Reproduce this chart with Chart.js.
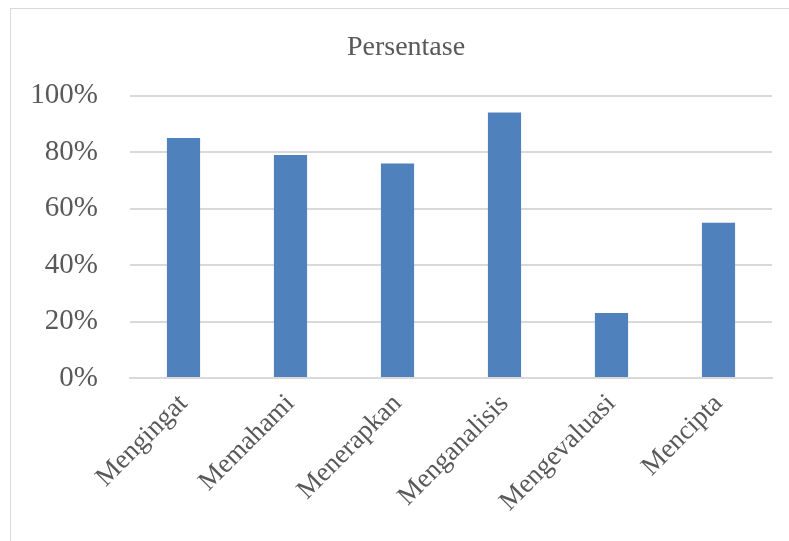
<!DOCTYPE html>
<html>
<head>
<meta charset="utf-8">
<script src="https://cdn.jsdelivr.net/npm/chart.js@4/dist/chart.umd.min.js"></script>
<style>
  html, body { margin: 0; padding: 0; background: #fff; }
  #wrap { position: relative; width: 789px; height: 541px; overflow: hidden; }
  #frame { position: absolute; left: 10px; top: 8px; width: 800px; height: 560px; border: 1px solid #d9d9d9; }
  canvas { position: absolute; left: 0; top: 0; }
</style>
</head>
<body>
<div id="wrap">
  <div id="frame"></div>
  <canvas id="chart" width="789" height="541"></canvas>
</div>
<script>
// Categories and values (percent)
const categories = ['Mengingat', 'Memahami', 'Menerapkan', 'Menganalisis', 'Mengevaluasi', 'Mencipta'];
const values = [85, 79, 76, 94, 23, 55];
const yTicks = [0, 20, 40, 60, 80, 100];

const textColor = '#595959';
const gridColor = '#d9d9d9';
const serif = "'Liberation Serif', 'Times New Roman', serif";

// nudge the title a bit to the right, like the original
const titleShift = {
  id: 'titleShift',
  afterLayout(chart) {
    if (chart.titleBlock) chart.titleBlock.left += 16;
  }
};

const ctx = document.getElementById('chart').getContext('2d');
new Chart(ctx, {
  type: 'bar',
  data: {
    labels: categories,
    datasets: [{
      label: 'Persentase',
      data: values,
      backgroundColor: '#4f81bd',
      borderWidth: 0,
      categoryPercentage: 1,
      barPercentage: 0.31
    }]
  },
  plugins: [titleShift],
  options: {
    responsive: false,
    animation: false,
    layout: { padding: { left: 24, right: 17, top: 0, bottom: 0 } },
    plugins: {
      legend: { display: false },
      tooltip: { enabled: false },
      title: {
        display: true,
        text: 'Persentase',
        color: textColor,
        font: { family: serif, size: 28, weight: 'normal' },
        padding: { top: 31, bottom: 31 }
      }
    },
    scales: {
      x: {
        grid: { display: false },
        border: { color: gridColor, width: 2 },
        ticks: {
          color: textColor,
          font: { family: serif, size: 27 },
          minRotation: 45,
          maxRotation: 45,
          padding: 2
        },
        afterFit: s => { s.height = 163; }
      },
      y: {
        min: 0,
        max: 100,
        afterBuildTicks: s => { s.ticks = yTicks.map(v => ({ value: v })); },
        grid: { color: gridColor, lineWidth: 2, drawTicks: false },
        border: { display: false },
        ticks: {
          color: textColor,
          font: { family: serif, size: 29 },
          padding: 32,
          callback: v => v + '%'
        },
        afterFit: s => { s.width = 106; }
      }
    }
  }
});
</script>
</body>
</html>
